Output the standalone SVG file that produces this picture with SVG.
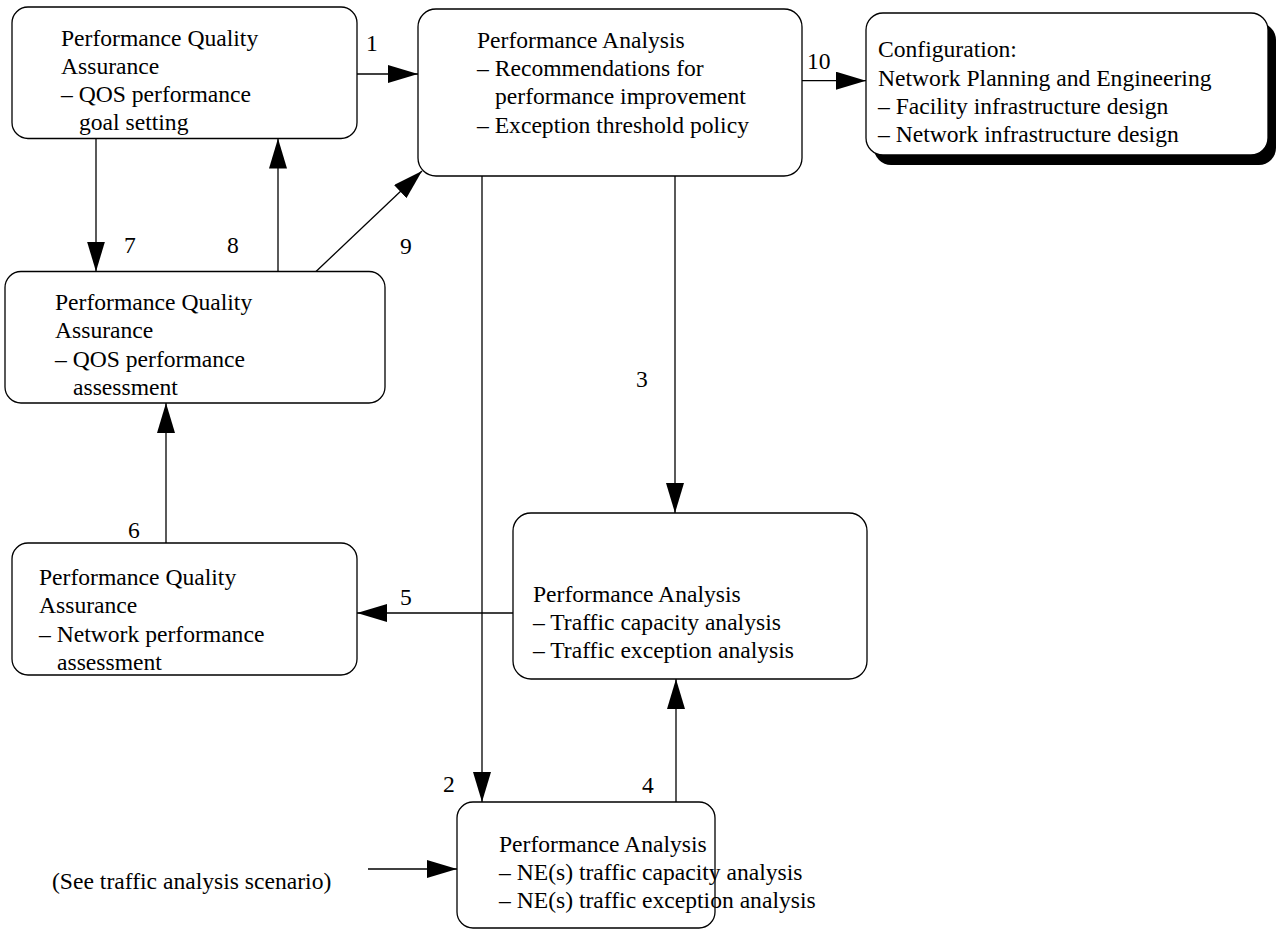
<svg xmlns="http://www.w3.org/2000/svg" width="1276" height="931" viewBox="0 0 1276 931">
<style>
  .box { fill: #ffffff; stroke: #000000; stroke-width: 1.3; }
  .shadow { fill: #000000; stroke: none; }
  .t { font-family: "Liberation Serif", "Times New Roman", serif; font-size: 23.6px; fill: #000000; }
  .edge { stroke: #000000; stroke-width: 1.3; fill: none; marker-end: url(#arrow); }
</style>
<defs>
  <marker id="arrow" markerUnits="userSpaceOnUse" markerWidth="31" markerHeight="18" refX="30" refY="9" orient="auto">
    <path d="M0,0 L30,9 L0,18 z" fill="#000000"/>
  </marker>
</defs>
<rect width="1276" height="931" fill="#ffffff"/>

<g id="connectors">
  <line class="edge" x1="357" y1="74" x2="418" y2="74"/>
  <line class="edge" x1="802" y1="80.7" x2="866" y2="80.7"/>
  <line class="edge" x1="96" y1="138.5" x2="96" y2="271.5"/>
  <line class="edge" x1="278" y1="271.5" x2="278" y2="138.5"/>
  <line class="edge" x1="316" y1="271.5" x2="422" y2="171"/>
  <line class="edge" x1="482" y1="176" x2="482" y2="802"/>
  <line class="edge" x1="675" y1="176" x2="675" y2="513"/>
  <line class="edge" x1="676" y1="802" x2="676" y2="679"/>
  <line class="edge" x1="513" y1="613" x2="357" y2="613"/>
  <line class="edge" x1="166" y1="543" x2="166" y2="403"/>
  <line class="edge" x1="368" y1="869" x2="457" y2="869"/>
  <text class="t" x="366" y="51">1</text>
  <text class="t" x="807" y="69">10</text>
  <text class="t" x="124" y="253">7</text>
  <text class="t" x="227" y="253">8</text>
  <text class="t" x="400" y="254">9</text>
  <text class="t" x="636" y="387">3</text>
  <text class="t" x="128" y="538">6</text>
  <text class="t" x="400" y="605">5</text>
  <text class="t" x="443" y="792">2</text>
  <text class="t" x="642" y="793">4</text>
  <text class="t" x="52" y="889">(See traffic analysis scenario)</text>
</g>

<g id="node-pqa-goal">
  <rect class="box" x="12" y="7" width="345" height="131.5" rx="16" ry="16"/>
  <text class="t" x="61" y="45.7">Performance Quality</text>
  <text class="t" x="61" y="73.8">Assurance</text>
  <text class="t" x="61" y="101.9">&#8211; QOS performance</text>
  <text class="t" x="79" y="129.5">goal setting</text>
</g>

<g id="node-pa-recommend">
  <rect class="box" x="418" y="9" width="384" height="167" rx="18" ry="18"/>
  <text class="t" x="477" y="47.7">Performance Analysis</text>
  <text class="t" x="477" y="76">&#8211; Recommendations for</text>
  <text class="t" x="495" y="104.3">performance improvement</text>
  <text class="t" x="477" y="132.7">&#8211; Exception threshold policy</text>
</g>

<g id="node-config">
  <rect class="shadow" x="874" y="23" width="402" height="142" rx="17" ry="17"/>
  <rect class="box" x="866" y="13" width="402" height="142" rx="17" ry="17"/>
  <text class="t" x="878" y="57.3">Configuration:</text>
  <text class="t" x="878" y="85.7">Network Planning and Engineering</text>
  <text class="t" x="878" y="114">&#8211; Facility infrastructure design</text>
  <text class="t" x="878" y="142">&#8211; Network infrastructure design</text>
</g>

<g id="node-pqa-assessment">
  <rect class="box" x="5" y="271.5" width="380" height="131.5" rx="16" ry="16"/>
  <text class="t" x="55" y="310">Performance Quality</text>
  <text class="t" x="55" y="338.3">Assurance</text>
  <text class="t" x="55" y="366.7">&#8211; QOS performance</text>
  <text class="t" x="73" y="395">assessment</text>
</g>

<g id="node-pqa-network">
  <rect class="box" x="12" y="543" width="345" height="132" rx="16" ry="16"/>
  <text class="t" x="39" y="585">Performance Quality</text>
  <text class="t" x="39" y="613">Assurance</text>
  <text class="t" x="39" y="641.5">&#8211; Network performance</text>
  <text class="t" x="57" y="670">assessment</text>
</g>

<g id="node-pa-traffic">
  <rect class="box" x="513" y="513" width="354" height="166" rx="18" ry="18"/>
  <text class="t" x="533" y="601.7">Performance Analysis</text>
  <text class="t" x="533" y="630">&#8211; Traffic capacity analysis</text>
  <text class="t" x="533" y="658.3">&#8211; Traffic exception analysis</text>
</g>

<g id="node-pa-ne">
  <rect class="box" x="457" y="802" width="258" height="126" rx="16" ry="16"/>
  <text class="t" x="499" y="851.7">Performance Analysis</text>
  <text class="t" x="499" y="880">&#8211; NE(s) traffic capacity analysis</text>
  <text class="t" x="499" y="908.3">&#8211; NE(s) traffic exception analysis</text>
</g>
</svg>
